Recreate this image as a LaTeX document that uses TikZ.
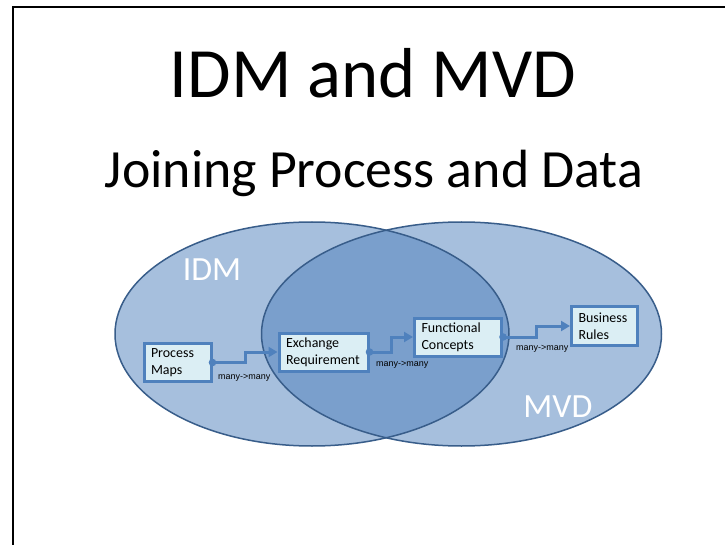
\documentclass[tikz,border=0pt]{standalone}
\usepackage{fontspec}
\setmainfont{Carlito}
\newfontfamily\arialf{Liberation Sans}
\usetikzlibrary{arrows.meta,calc}
\definecolor{ellfill}{HTML}{4F81BD}
\definecolor{elldraw}{HTML}{385D8A}
\definecolor{boxfill}{HTML}{DBEEF4}
\definecolor{boxdraw}{HTML}{4F81BD}
\definecolor{conncol}{HTML}{4F81BD}
\begin{document}
\begin{tikzpicture}[x=1bp,y=-1bp,
  stepbox/.style={draw=boxdraw, line width=3bp, fill=boxfill, align=left,
    inner xsep=7bp, inner ysep=0pt, font=\fontsize{14}{17}\selectfont, anchor=center},
  conn/.style={draw=conncol, line width=3bp, -{Triangle[length=9bp,width=10bp]}},
  lbl/.style={font=\arialf\fontsize{9}{10}\selectfont, inner sep=0pt, anchor=west},
  setlbl/.style={text=white, font=\fontsize{34}{40}\selectfont, inner sep=0pt, anchor=base},
  ellbase/.style={fill=ellfill, fill opacity=0.5},
  ellline/.style={draw=elldraw, line width=1.5bp}
]
\useasboundingbox (0,0) rectangle (725,545);
\fill[white] (0,0) rectangle (725,545);
% frame
\draw[line width=1.8bp] (13,545) -- (13,7) -- (725,7);
% titles
\node[anchor=base, inner sep=0pt, font=\fontsize{71}{80}\selectfont] (title) at (373,98) {IDM and MVD};
\node[anchor=base, inner sep=0pt, font=\fontsize{54}{60}\selectfont] (subtitle) at (374,188) {Joining Process and Data};
% ellipses
\path[ellbase] (312,334) ellipse [x radius=197, y radius=112];
\path[ellbase] (461.5,334) ellipse [x radius=200, y radius=112];
\draw[ellline] (312,334) ellipse [x radius=197, y radius=112];
\draw[ellline] (461.5,334) ellipse [x radius=200, y radius=112];
\node[setlbl] (idm) at (212,281) {IDM};
\node[setlbl] (mvd) at (558,417) {MVD};
% boxes
\node[stepbox, text width=53bp, minimum height=38bp] (pm) at (177.5,362.5) {Process\\Maps};
\node[stepbox, text width=75bp, minimum height=38bp] (er) at (323.5,352) {Exchange\\Requirement};
\node[stepbox, text width=73bp, minimum height=38bp] (fc) at (458,337) {Functional\\Concepts};
\node[stepbox, text width=52bp, minimum height=39bp] (br) at (604.5,326) {Business\\Rules};
% connectors
\draw[conn] (pm.east) -| ($(pm.east)!.5!(er.west)$) |- (er.west);
\draw[conn] (er.east) -| ($(er.east)!.5!(fc.west)$) |- (fc.west);
\draw[conn] (fc.east) -| ($(fc.east)!.5!(br.west)$) |- (br.west);
\fill[conncol] (pm.east) circle (3.8bp);
\fill[conncol] (er.east) circle (3.8bp);
\fill[conncol] (fc.east) circle (3.8bp);
% labels
\node[lbl] (l1) at (218,378) {many->many};
\node[lbl] (l2) at (376,365) {many->many};
\node[lbl] (l3) at (516,349) {many->many};
\end{tikzpicture}
\end{document}
